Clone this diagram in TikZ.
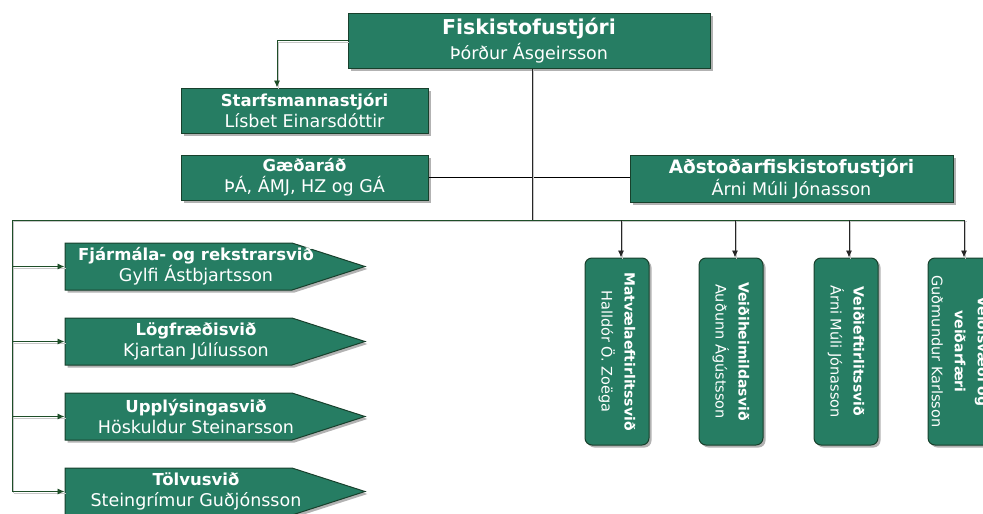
\documentclass[tikz,border=0pt]{standalone}
\usepackage{fontspec}
\setmainfont{DejaVu Sans}
\usetikzlibrary{positioning,shapes.symbols,shadows,arrows.meta}
\definecolor{boxgreen}{RGB}{38,125,99}
\definecolor{boxedge}{RGB}{24,64,44}
\definecolor{treegreen}{RGB}{30,78,40}
\newcommand{\Head}[1]{{\bfseries\fontsize{16.5}{21}\selectfont #1}}
\newcommand{\SideHead}[1]{{\bfseries\fontsize{14}{23}\selectfont #1}}

\begin{document}
\begin{tikzpicture}[x=1pt, y=-1pt, >={Latex[length=7pt,width=6pt]},
  box/.style={draw=boxedge, fill=boxgreen, text=white, align=center, line width=1pt,
    drop shadow={shadow xshift=2.5pt, shadow yshift=-2.5pt, fill=black!30, opacity=1}},
  headbox/.style={box, minimum width=362pt, minimum height=55pt, inner sep=0pt, font=\fontsize{17.5}{25}\selectfont},
  unitbox/.style={box, minimum width=247pt, minimum height=45pt, inner sep=0pt, font=\fontsize{17.5}{21}\selectfont},
  divbox/.style={box, shape=signal, signal to=east, signal pointer angle=35.7,
    inner xsep=113.5pt, inner ysep=23.5pt, minimum size=0pt},
  divtext/.style={text=white, align=center, inner sep=0pt, font=\fontsize{17.5}{21}\selectfont},
  sectbox/.style={box, rotate=-90, rounded corners=7pt, minimum width=187pt, minimum height=64pt,
    inner sep=0pt, font=\fontsize{14.5}{23}\selectfont},
  link/.style={draw=treegreen, line width=0.9pt,
    preaction={draw=black!22, line width=0.9pt, -, transform canvas={xshift=1.5pt, yshift=-1.5pt}}},
  drop/.style={draw=black!85, line width=0.9pt,
    preaction={draw=black!22, line width=0.9pt, -, transform canvas={xshift=1.5pt, yshift=-1.5pt}}},
]

  \useasboundingbox (0,0) rectangle (983,514);

  \newcommand\Dy{75}

  % top of the chart
  \node[headbox] (boss) at (529,40.5) {{\bfseries\fontsize{20.5}{25}\selectfont Fiskistofustjóri}\\Þórður Ásgeirsson};
  \node[unitbox] (staff) at (304.5,110.5) {\Head{Starfsmannastjóri}\\Lísbet Einarsdóttir};
  \node[unitbox] (board) at (304.5,177.5) {\Head{Gæðaráð}\\ÞÁ, ÁMJ, HZ og GÁ};
  \node[unitbox, minimum width=323pt, minimum height=47pt, font=\fontsize{17.5}{22}\selectfont] (deputy) at (791.5,178.5)
    {{\bfseries\fontsize{18.5}{22}\selectfont Aðstoðarfiskistofustjóri}\\Árni Múli Jónasson};

  % divisions on the left
  \node[divbox, label={[divtext, xshift=17.5pt]center:{\Head{Fjármála- og rekstrarsvið}\\Gylfi Ástbjartsson}}] (finance) at (178.5,266.5) {};
  \node[divbox, label={[divtext, xshift=17.5pt]center:{\Head{Lögfræðisvið}\\Kjartan Júlíusson}}] (legal) at (178.5,266.5+\Dy) {};
  \node[divbox, label={[divtext, xshift=17.5pt]center:{\Head{Upplýsingasvið}\\Höskuldur Steinarsson}}] (info) at (178.5,266.5+2*\Dy) {};
  \node[divbox, label={[divtext, xshift=17.5pt]center:{\Head{Tölvusvið}\\Steingrímur Guðjónsson}}] (comp) at (178.5,266.5+3*\Dy) {};

  % sections on the right
  \node[sectbox] (food) at (617,351.5) {\SideHead{Matvælaeftirlitssvið}\\Halldór Ö. Zoëga};
  \node[sectbox] (permit) at (731,351.5) {\SideHead{Veiðiheimildasvið}\\Auðunn Ágústsson};
  \node[sectbox] (patrol) at (846,351.5) {\SideHead{Veiðieftirlitssvið}\\Árni Múli Jónasson};
  \node[sectbox] (gear) at (960,351.5) {\SideHead{Veiðisvæði og}\\\SideHead{veiðarfæri}\\Guðmundur Karlsson};

  \coordinate (busL) at (12,220);
  \coordinate (busR) at (965,220);
  \coordinate (hub) at (532,220);

  \draw[link, ->] (boss.west) -| ([xshift=-27.5pt]staff.north); %% boss->staff
  \draw[black, line width=0.8pt] (board.east) -- (board.east -| deputy.west); %% board--deputy
  \draw[drop] ([xshift=3pt]boss.south) -- (hub); %% trunk
  \draw[link] (busR) -- (busL) -- (busL |- comp.west); %% bus

  \draw[link, ->] (busL |- finance.west) -- (finance.west);
  \draw[link, ->] (busL |- legal.west) -- (legal.west);
  \draw[link, ->] (busL |- info.west) -- (info.west);
  \draw[link, ->] (busL |- comp.west) -- (comp.west);

  \draw[drop, ->] ([xshift=4pt]food.west |- busL) -- ([xshift=4pt]food.west);
  \draw[drop, ->] ([xshift=4pt]permit.west |- busL) -- ([xshift=4pt]permit.west);
  \draw[drop, ->] ([xshift=3pt]patrol.west |- busL) -- ([xshift=3pt]patrol.west);
  \draw[drop, ->] ([xshift=4pt]gear.west |- busL) -- ([xshift=4pt]gear.west);

\end{tikzpicture}
\end{document}
